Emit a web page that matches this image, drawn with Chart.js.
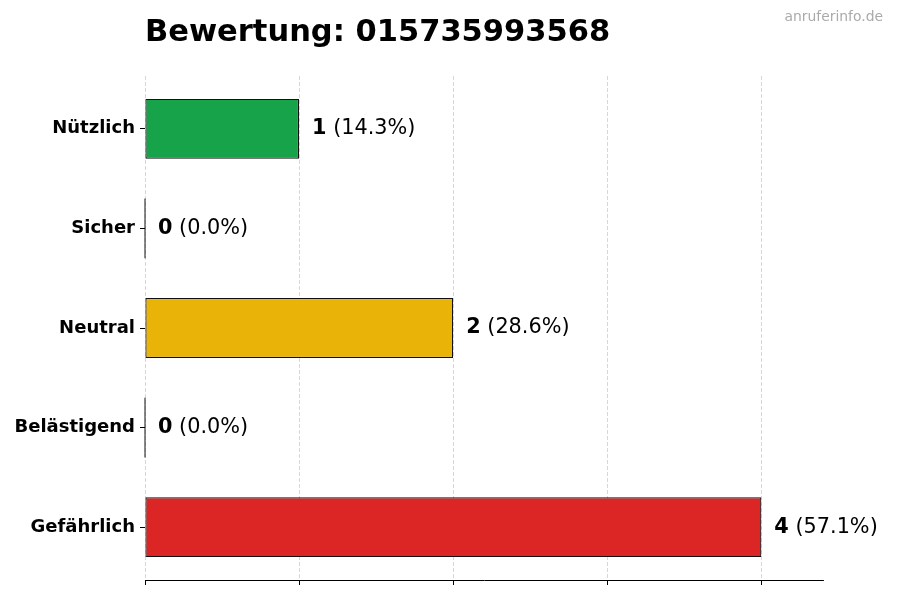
<!DOCTYPE html>
<html lang="de">
<head>
<meta charset="utf-8">
<title>Bewertung</title>
<script src="https://cdn.jsdelivr.net/npm/chart.js"></script>
<style>
  html, body { margin: 0; padding: 0; background: #fff; }
  #wrap { width: 900px; height: 600px; position: relative; }
</style>
</head>
<body>
<div id="wrap"><canvas id="chart"></canvas></div>
<script>
// Daten
const categories = ['Nützlich', 'Sicher', 'Neutral', 'Belästigend', 'Gefährlich'];
const counts = [1, 0, 2, 0, 4];
const barColors = ['#16a34a', '#16a34a', '#eab308', '#dc2626', '#dc2626'];
const xTicks = [0, 1, 2, 3, 4];
const titleText = 'Bewertung: 015735993568';
const watermark = 'anruferinfo.de';

const total = counts.reduce((a, b) => a + b, 0);
const FONT = '"DejaVu Sans", sans-serif';

// Titel, Wasserzeichen, Werte neben den Balken
const extras = {
  id: 'extras',
  afterDatasetsDraw(chart) {
    const ctx = chart.ctx;
    const meta = chart.getDatasetMeta(0);
    ctx.save();
    meta.data.forEach((bar, i) => {
      const v = counts[i];
      if (v === 0) {
        // Null-Balken: nur die Kante
        ctx.strokeStyle = '#111';
        ctx.lineWidth = 1;
        ctx.beginPath();
        ctx.moveTo(bar.x, bar.y - bar.height / 2);
        ctx.lineTo(bar.x, bar.y + bar.height / 2);
        ctx.stroke();
      }
      const pct = (v / total * 100).toFixed(1);
      let x = bar.x + 13;
      ctx.fillStyle = '#000';
      ctx.textBaseline = 'middle';
      ctx.textAlign = 'left';
      ctx.font = 'bold 20.8px ' + FONT;
      ctx.fillText(String(v), x, bar.y);
      x += ctx.measureText(String(v)).width;
      ctx.font = '20.8px ' + FONT;
      ctx.fillText(' (' + pct + '%)', x, bar.y);
    });

    ctx.textBaseline = 'alphabetic';
    ctx.font = 'bold 30.5px ' + FONT;
    ctx.fillStyle = '#000';
    ctx.fillText(titleText, chart.chartArea.left, 41);

    ctx.font = '13.9px ' + FONT;
    ctx.fillStyle = '#aaaaaa';
    ctx.textAlign = 'right';
    ctx.textBaseline = 'middle';
    ctx.fillText(watermark, 883, 17);
    ctx.restore();
  }
};

new Chart(document.getElementById('chart'), {
  type: 'bar',
  data: {
    datasets: [{
      data: counts.map((v, i) => ({ x: v, y: i })),
      backgroundColor: barColors,
      borderColor: '#111',
      borderWidth: 1.2,
      borderSkipped: false,
      barPercentage: 0.6,
      categoryPercentage: 1
    }]
  },
  options: {
    indexAxis: 'y',
    responsive: true,
    maintainAspectRatio: false,
    animation: false,
    layout: { padding: { left: 0, top: 76, right: 77, bottom: 0 } },
    plugins: { legend: { display: false }, tooltip: { enabled: false }, title: { display: false } },
    scales: {
      x: {
        type: 'linear',
        min: 0,
        max: 4.4,
        z: 1,
        afterBuildTicks: s => { s.ticks = xTicks.map(v => ({ value: v })); },
        afterFit: s => { s.height = 20; },
        ticks: { display: false, includeBounds: false },
        grid: {
          color: 'rgba(0,0,0,0.2)',
          lineWidth: 0.8,
          drawTicks: true,
          tickLength: 5,
          tickColor: '#000',
          tickWidth: 1,
          tickBorderDash: []
        },
        border: { display: true, color: '#000', width: 1, dash: [4, 2] }
      },
      y: {
        type: 'linear',
        min: -0.53,
        max: 4.53,
        reverse: true,
        offset: false,
        afterBuildTicks: s => { s.ticks = categories.map((c, i) => ({ value: i })); },
        afterFit: s => { s.width = 145; },
        ticks: {
          callback: v => categories[v],
          color: '#000',
          padding: 5,
          font: { family: FONT, size: 18, weight: 'bold' }
        },
        grid: { offset: false, drawOnChartArea: false, drawTicks: true, tickLength: 5, tickColor: '#000' },
        border: { display: false }
      }
    }
  },
  plugins: [extras]
});
</script>
</body>
</html>
